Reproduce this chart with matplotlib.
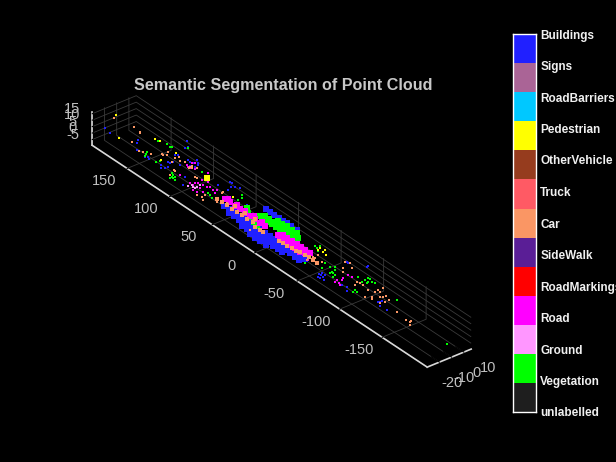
import numpy as np
import matplotlib
matplotlib.use('Agg')
import matplotlib.pyplot as plt
from matplotlib.colors import ListedColormap

plt.rcParams['font.family'] = ['Liberation Sans', 'DejaVu Sans']
plt.rcParams['axes.unicode_minus'] = False

class_names = ['unlabelled', 'Vegetation', 'Ground', 'Road', 'RoadMarkings', 'SideWalk', 'Car',
               'Truck', 'OtherVehicle', 'Pedestrian', 'RoadBarriers', 'Signs', 'Buildings']
class_colors = ['#1e1e1e', '#00ff00', '#ff96ff', '#ff00ff', '#ff0000', '#5a1e96', '#fa9664',
                '#ff5a64', '#963c1e', '#ffff00', '#00c8ff', '#aa6496', '#2020ff']

x_ticks = [-20, -10, 0, 10]
y_ticks = [-150, -100, -50, 0, 50, 100, 150]
z_ticks = [-5, 0, 5, 10, 15]

buildings_core_x = [-7]*17 + [-10]*15 + [-13]*9 + [-15.5]*4 + [11.5]*8
buildings_core_y = [55,49,43,37,31,25,19,13,7,1,-5,-11,-17,-23,-29,-35,-40] + [45,39,33,27,21,15,9,3,-3,-9,-15,-21,-27,-33,-38] + [25,19,13,7,1,-5,-11,-17,-22] + [12,6,0,-7] + [32,27,22,17,12,7,2,-4]
vegetation_core_x = [3]*9 + [6]*9 + [9]*5 + [3,0,-2,-4,-5.8]
vegetation_core_y = [28,23,18,13,8,3,-2,-7,-11] + [25,20,15,10,5,0,-5,-10,-14] + [14,9,4,-2,-8] + [42,36,30,24,18]
road_core_x = [-1.5]*9 + [-2]*7 + [0.5]*7 + [-3.5]*5 + [0]*5
road_core_y = [62,56,50,44,38,32,26,20,14] + [-2,-7,-12,-17,-22,-27,-33] + [-4,-9,-14,-20,-25,-30,-36] + [-6,-12,-18,-24,-30] + [60,50,40,30,20]
car_core_x = [-5]*8 + [-7.5]*3 + [-6]*3 + [-5]*2 + [-3.5]*5 + [-1.5]*3
car_core_y = [66,60,54,48,42,36,30,24] + [18,12,8] + [-8,-13,-18] + [-22,-27] + [-30,-35,-40,-45,-50] + [50,38,26]

# scattered points
buildings_x = [-11.6,-12.9,-6.9,-4.1,-12.3,-13.6,-12.0,-13.1,-11.6,-13.9,-11.9,-9.6,-3.2,-2.0,19.9,13.5,15.8,10.4,7.1,3.3,-5.5,3.1,4.6,-5.8,5.9,5.4,6.1,8.7,2.3,4.1,-15.7,-8.6,2.0,10.3,10.6,7.0,9.0,10.8,-4.4,1.4,3.2,8.4,8.1,-17.7,-12.7,-15.2,-17.5,-12.7,-17.0,-14.7,-14.9,15.9,14.7,-11.7,-10.7,-13.8,-5.5,-6.5,-3.7,-8.5,-8.0,-15.1]
buildings_y = [188,180,157,160,149,138,137,134,122,119,117,117,120,114,137,130,130,112,106,104,120,127,126,122,116,112,110,108,108,105,90,98,75,73,71,67,65,61,57,40,65,-68,-69,-71,-69,-74,-73,-72,-77,-70,-68,-82,-82,-91,-95,-100,-127,-126,-126,-131,-139,-38]
vegetation_x = [-12.2,-14.2,-12.7,-16.0,-15.0,-11.1,-14.5,16.0,7.7,4.8,-8.2,-8.7,-10.0,1.6,5.2,7.4,6.2,8.5,8.7,-7.7,-9.8,-11.8,-10.8,-8.0,4.9,3.1,5.4,7.9,-2.5,-7.9,-3.0,-0.5,-5.8,-6.6,-9.2,-7.6,-2.8,-6.1,4.7,7.8,6.7,4.7,3.4,1.7,8.0,3.5,-8.0,-8.5,-10.5,5.6,7.5,-2.7,-12.6]
vegetation_y = [107,106,104,105,101,110,104,130,139,98,72,69,64,51,51,54,151,144,138,144,142,141,129,128,-38,-41,-35,-37,-58,-62,-64,-67,-71,-75,-77,-71,-70,-72,-94,-93,-100,-98,-98,-95,-95,-88,-101,-104,-102,-131,-102,-201,-49]
road_x = [10.0,1.6,-1.7,3.1,-2.7,-4.2,-6.7,-5.5,-1.2,0.3,-0.4,1.6,-1.7,-10.6,-10.1,-7.0,4.5,11.1,4.7,-5.7,-6.7,5.5,6.5,9.6,1.5,1.3,-0.5,-5.9,-1.9,-3.9,2.9,3.4,-6.5,-9.0,-8.8,-7.8]
road_y = [98,93,87,88,92,93,95,85,83,82,77,75,73,86,82,79,114,115,112,108,92,116,108,116,-22,-27,-35,-42,-78,-80,-77,-81,-77,-79,-84,-82]
ground_x = [-8.3,-6.2,-8.0,-7.2,-3.2,-10.0]
ground_y = [89,88,87,92,88,93]
car_x = [3.5, 6.7, 6.0, 5.2, -5.7, -9.1, -7.8, -5.3, 0.3, 4.8, 3.8, 6.6, 4.0, 3.2, 4.8, 4.5, 7.3, -5.9, -6.1, -11.7, -0.8, 2.0, 0.0, 5.8, 6.3, -0.6, -0.4, -13.3, -12.3, -14.1, -9.3, 0.8, 2.1, -8.6, -4.3, -13.3, -4.3, -2.0, -1.8, 2.0, -7.4, -1.3, 4.7, 1.7, 10.3, 12.1, 9.3, 1.1, 1.9, 1.9, -2.2, 0.6, 2.6, 5.6, 5.1, -2.7, -6.3, -4.3, 1.3, 9.7, 2.8, 5.1, 3.6, 0.0, -3.3, -1.6, -3.1, -1.4, -2.6, -4.9]
car_y = [199.2, 180.3, 172.1, 171.0, 164.8, 151.7, 148.8, 143.1, 138.1, 137.6, 127.9, 127.2, 122.3, 110.6, 109.2, 111.2, 107.0, 115.2, 113.6, 111.5, 124.8, 134.8, 136.6, 119.0, 111.4, 98.0, 96.0, 77.4, 72.9, 69.2, 73.8, 68.3, 69.0, 60.7, 55.1, 15.1, -42.6, -42.8, -44.8, -42.9, -43.4, -52.4, -68.4, -72.8, -62.7, -66.1, -72.5, -90.1, -92.5, -96.1, -92.5, -103.8, -109.1, -108.3, -111.4, -113.3, -110.1, -115.5, -116.9, -108.3, -118.2, -118.5, -124.2, -124.6, -123.5, -141.0, -153.8, -157.1, -157.8, -161.1]
pedestrian_x = [5.8, -10.2, 7.2, 7.1, 8.2, -5.8, 2.4, 7.4, 5.9, 4.9, 8.4, 5.1]
pedestrian_y = [200.2, 173.6, 156.3, 131.5, 151.9, 130.6, 57.6, -37.5, -43.3, -38.8, -42.0, -47.9]
pedestrian_big_x = [3.7]
pedestrian_big_y = [90.1]

fig = plt.figure(figsize=(6.16, 4.62), dpi=100, facecolor='black')
ax = fig.add_axes([-0.0528, -0.013, 1, 1], projection='3d', proj_type='ortho', facecolor='black')
ax.computed_zorder = False
ax.set_xlim(-20, 16)
ax.set_ylim(-203, 191)
ax.set_zlim(-9.5, 16)
ax.set_box_aspect((56, 542, 38.6), zoom=1.147)
ax.view_init(elev=31.4, azim=-128.2)
ax.set_xticks(x_ticks)
ax.set_yticks(y_ticks)
ax.set_zticks(z_ticks)
for axis in (ax.xaxis, ax.yaxis, ax.zaxis):
    axis.set_pane_color((0, 0, 0, 0))
    axis.line.set_color('#d8d8d8')
    axis.line.set_linewidth(1.2)
    axis._axinfo['grid'].update(color='#3a3a3a', linewidth=0.6)
    axis._axinfo['tick'].update(inward_factor=0, outward_factor=0.3, color='#c0c0c0')
    axis.set_major_formatter(plt.NullFormatter())
    for tick in axis.get_major_ticks():
        tick.label1.set_visible(False)
        tick.label2.set_visible(False)

# tick labels sit further out than mplot3d puts them
label_style = dict(color='#c0c0c0', fontsize=10.5, ha='center', va='center')
for t in x_ticks:
    ax.text(t, -232, -9.5, str(t), **label_style)
for t in y_ticks:
    ax.text(-39, t, -12, str(t), **label_style)
for t in z_ticks:
    ax.text(-30, 200, t + 3.8, str(t), **label_style)

marks = dict(marker='s', linewidths=0, depthshade=False)
ax.scatter(buildings_core_x, buildings_core_y, -2, c='#2020ff', s=14, zorder=1, **marks)
ax.scatter(buildings_x, buildings_y, 2, c='#2020ff', s=4, zorder=2, **marks)
ax.scatter(vegetation_core_x, vegetation_core_y, -2, c='#00ff00', s=14, zorder=3, **marks)
ax.scatter(vegetation_x, vegetation_y, 1, c='#00ff00', s=4, zorder=3, **marks)
ax.scatter(road_core_x, road_core_y, -2, c='#ff00ff', s=14, zorder=4, **marks)
ax.scatter(road_x, road_y, -2, c='#ff00ff', s=4, zorder=4, **marks)
ax.scatter(ground_x, ground_y, -2, c='#ff96ff', s=4, zorder=5, **marks)
ax.scatter(car_core_x, car_core_y, -2, c='#fa9664', s=12, zorder=5, **marks)
ax.scatter(car_x, car_y, -1, c='#fa9664', s=4, zorder=5, **marks)
ax.scatter(pedestrian_x, pedestrian_y, 0, c='#ffff00', s=4, zorder=6, **marks)
ax.scatter(pedestrian_big_x, pedestrian_big_y, 0, c='#ffff00', s=16, zorder=6, **marks)

fig.text(283/616, 1-85.5/462, 'Semantic Segmentation of Point Cloud', color='#c8c8c8', fontsize=11.6, fontweight='bold', ha='center', va='center')

cax = fig.add_axes([513/616, 1-412/462, 23/616, 378/462])
cax.imshow(np.arange(13)[:, None], cmap=ListedColormap(class_colors), origin='lower', aspect='auto', extent=[0, 1, 0, 12])
cax.set_xticks([])
cax.yaxis.tick_right()
cax.set_yticks(range(13), class_names, color='#f0f0f0', fontsize=8.5, fontweight='bold')
cax.tick_params(axis='y', length=0, pad=3)
for sp in cax.spines.values():
    sp.set_color('white')
    sp.set_linewidth(1)

fig.savefig('out.png', dpi=100, facecolor='black')
